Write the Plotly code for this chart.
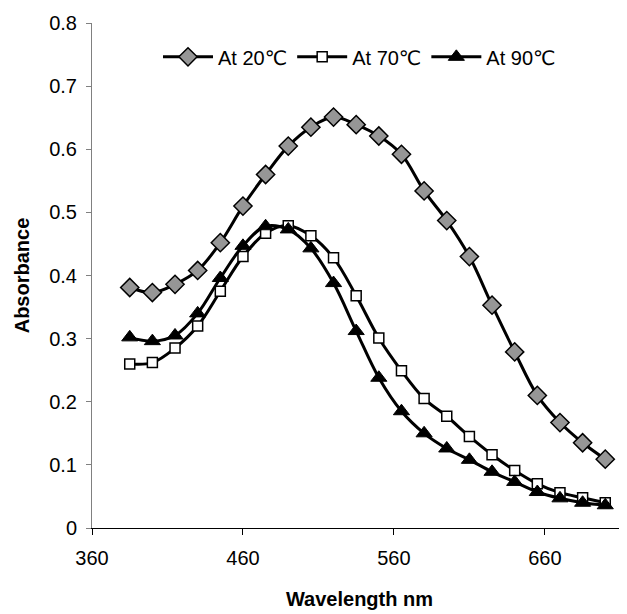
import plotly.graph_objects as go

wavelength = [385, 400, 415, 430, 445, 460, 475, 490, 505, 520, 535,
              550, 565, 580, 595, 610, 625, 640, 655, 670, 685, 700]
abs_20 = [0.381, 0.373, 0.386, 0.408, 0.452, 0.510, 0.560, 0.605, 0.635, 0.651, 0.639,
          0.621, 0.592, 0.534, 0.487, 0.430, 0.353, 0.279, 0.210, 0.167, 0.135, 0.109]
abs_70 = [0.260, 0.262, 0.285, 0.320, 0.375, 0.430, 0.467, 0.479, 0.463, 0.428, 0.368,
          0.301, 0.249, 0.205, 0.177, 0.145, 0.116, 0.091, 0.070, 0.056, 0.048, 0.040]
abs_90 = [0.302, 0.296, 0.305, 0.340, 0.396, 0.447, 0.478, 0.473, 0.443, 0.388, 0.312,
          0.238, 0.185, 0.150, 0.126, 0.108, 0.089, 0.073, 0.057, 0.047, 0.040, 0.036]
series_names = ["At 20℃", "At 70℃", "At 90℃"]
x_ticks = [360, 460, 560, 660]
y_ticks = [0, 0.1, 0.2, 0.3, 0.4, 0.5, 0.6, 0.7, 0.8]

FONT = "Liberation Sans, Arial, DejaVu Sans, sans-serif"

fig = go.Figure()
line = dict(color="black", width=3, shape="spline", smoothing=1)
fig.add_trace(go.Scatter(
    x=wavelength, y=abs_20, name=series_names[0], mode="lines+markers",
    line=line,
    marker=dict(symbol="diamond", size=14, color="#969696",
                line=dict(color="black", width=1.5))))
fig.add_trace(go.Scatter(
    x=wavelength, y=abs_70, name=series_names[1], mode="lines+markers",
    line=line,
    marker=dict(symbol="square", size=10, color="white",
                line=dict(color="black", width=1.5))))
fig.add_trace(go.Scatter(
    x=wavelength, y=abs_90, name=series_names[2], mode="lines+markers",
    line=line,
    marker=dict(symbol="triangle-up", size=14, color="black",
                line=dict(color="black", width=1))))

fig.update_layout(
    width=619, height=606,
    margin=dict(l=84, r=0, t=15, b=86, autoexpand=False),
    paper_bgcolor="white", plot_bgcolor="white",
    font=dict(family=FONT, size=20, color="black"),
    showlegend=True,
    legend=dict(orientation="h", x=0.5, xanchor="center", y=0.933, yanchor="middle",
                font=dict(size=20), bgcolor="rgba(0,0,0,0)", itemwidth=50,
                tracegroupgap=0),
    xaxis=dict(range=[360, 714.4], tickvals=x_ticks, ticks="outside", ticklen=6,
               tickcolor="black", showline=True, linecolor="black", linewidth=1,
               showgrid=False, zeroline=False, ticklabelstandoff=6, automargin=False,
               tickfont=dict(size=20),
               title=dict(text="<b>Wavelength nm</b>", font=dict(size=20), standoff=23)),
    yaxis=dict(range=[0, 0.8], tickvals=y_ticks, ticks="outside", ticklen=5,
               tickcolor="#808080", showline=True, linecolor="#808080", linewidth=1,
               showgrid=False, zeroline=False, ticklabelstandoff=5, automargin=False,
               tickformat="~g", tickfont=dict(size=20),
               title=dict(text="<b>Absorbance</b>", font=dict(size=20), standoff=14)),
)

fig.write_html("out.html")
